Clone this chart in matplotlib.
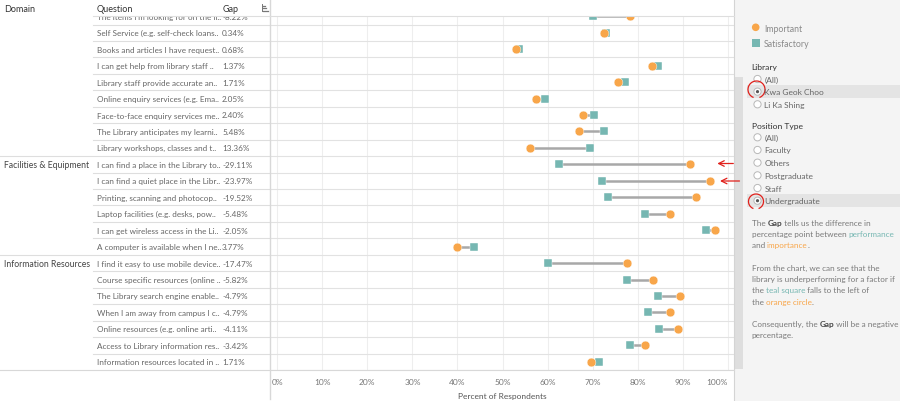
import matplotlib
matplotlib.use("Agg")
import matplotlib.pyplot as plt
from matplotlib.patches import Rectangle, Circle, Arc

plt.rcParams['font.family'] = ['Lato', 'DejaVu Sans']

# rows as they appear in the (scrolled) Tableau view
questions = [
    "The items I'm looking for on the li..",
    "Self Service (e.g. self-check loans..",
    "Books and articles I have request..",
    "I can get help from library staff ..",
    "Library staff provide accurate an..",
    "Online enquiry services (e.g. Ema..",
    "Face-to-face enquiry services me..",
    "The Library anticipates my learni..",
    "Library workshops, classes and t..",
    "I can find a place in the Library to..",
    "I can find a quiet place in the Libr..",
    "Printing, scanning and photocop..",
    "Laptop facilities (e.g. desks, pow..",
    "I can get wireless access in the Li..",
    "A computer is available when I ne..",
    "I find it easy to use mobile device..",
    "Course specific resources (online ..",
    "The Library search engine enable..",
    "When I am away from campus I c..",
    "Online resources (e.g. online arti..",
    "Access to Library information res..",
    "Information resources located in ..",
]
domains = ["Library Services"] * 9 + ["Facilities & Equipment"] * 6 + ["Information Resources"] * 7
gap_labels = ["-8.22%", "0.34%", "0.68%", "1.37%", "1.71%", "2.05%", "2.40%", "5.48%", "13.36%",
              "-29.11%", "-23.97%", "-19.52%", "-5.48%", "-2.05%", "3.77%",
              "-17.47%", "-5.82%", "-4.79%", "-4.79%", "-4.11%", "-3.42%", "1.71%"]
important = [78.3, 72.6, 52.9, 83.2, 75.6, 57.4, 67.9, 67.0, 56.0,
             91.7, 96.1, 93.0, 87.2, 97.2, 39.9,
             77.6, 83.4, 89.3, 87.2, 88.9, 81.7, 69.7]
satisfactory = [70.1, 72.9, 53.6, 84.6, 77.3, 59.4, 70.3, 72.5, 69.4,
                62.6, 72.1, 73.5, 81.7, 95.1, 43.7,
                60.1, 77.6, 84.5, 82.4, 84.8, 78.3, 71.4]
x_ticks = [0, 10, 20, 30, 40, 50, 60, 70, 80, 90, 100]

library_options = ["(All)", "Kwa Geok Choo", "Li Ka Shing"]
library_selected = "Kwa Geok Choo"
position_options = ["(All)", "Faculty", "Others", "Postgraduate", "Staff", "Undergraduate"]
position_selected = "Undergraduate"

ORANGE = "#f8a64a"
TEAL = "#76b7b2"
W, H = 900, 402

fig = plt.figure(figsize=(9, 4.02), dpi=100)
fig.patch.set_facecolor("white")


def fx(px):
    return px / W


def fy(py):
    return 1 - py / H


# background / overlay axes in pixel units
ax_bg = fig.add_axes([0, 0, 1, 1], zorder=-1)
ax_bg.set_xlim(0, W)
ax_bg.set_ylim(H, 0)
ax_bg.axis("off")
ax_bg.add_patch(Rectangle((734.5, 0), W - 734.5, H, color="#f4f4f4", lw=0))
ax_bg.add_patch(Rectangle((734.5, 78), 8.5, 292, color="#dedede", lw=0))
ax_bg.add_patch(Rectangle((747, 86), W - 747, 13, color="#e4e4e4", lw=0))
ax_bg.add_patch(Rectangle((747, 195), W - 747, 13, color="#e4e4e4", lw=0))

n = len(questions)
row_px = 16.45
top_px, bot_px = 17.3, 371
y_bottom = (bot_px - top_px) / row_px

# chart
ax = fig.add_axes([fx(270), fy(bot_px), (734 - 270) / W, (bot_px - top_px) / H])
ax.set_facecolor("none")
ax.set_xlim((270 - 277.3) / 4.504, (734 - 277.3) / 4.504)
ax.set_ylim(y_bottom, 0)
for t in x_ticks:
    ax.axvline(t, color="#eeeeee", lw=0.8, zorder=0)
for i in range(n):
    ax.axhline(i + 0.5, color="#e2e2e2", lw=0.8, zorder=0)
rows = list(range(n))
ax.hlines(rows, important, satisfactory, color="#a8a8a8", lw=1.8, zorder=1)
ax.scatter(satisfactory, rows, marker="s", s=34, color=TEAL, edgecolors="white", linewidths=0.3, zorder=2)
ax.scatter(important, rows, marker="o", s=40, color=ORANGE, edgecolors="white", linewidths=0.3, zorder=3)
for s in ax.spines.values():
    s.set_visible(False)
ax.set_yticks([])
ax.set_xticks(x_ticks)
ax.set_xticklabels([f"{t}%" for t in x_ticks], fontsize=6, color="#777777")
ax.get_xticklabels()[-1].set_horizontalalignment("right")
ax.tick_params(axis="x", length=0, pad=6)
ax.set_xlabel("Percent of Respondents", fontsize=6, color="#555555", labelpad=5)

# table on the left
ax_tab = fig.add_axes([0, fy(bot_px), 270 / W, (bot_px - top_px) / H])
ax_tab.set_xlim(0, 270)
ax_tab.set_ylim(y_bottom, 0)
ax_tab.axis("off")
for i in range(n):
    ax_tab.text(97, i, questions[i], fontsize=5.9, color="#666666", va="center", clip_on=True)
    ax_tab.text(222, i, gap_labels[i], fontsize=5.9, color="#666666", va="center", clip_on=True)
    if i > 0 and domains[i] != domains[i - 1]:
        ax_tab.text(4, i, domains[i], fontsize=6.2, color="#444444", va="center", clip_on=True)
for i in range(n - 1):
    x0 = 0 if domains[i] != domains[i + 1] else 93
    ax_tab.plot([x0, 270], [i + 0.5, i + 0.5], color="#dedede", lw=0.8, clip_on=True)

# overlay for headers, borders, side panel
ov = fig.add_axes([0, 0, 1, 1], zorder=5)
ov.set_xlim(0, W)
ov.set_ylim(H, 0)
ov.axis("off")
ov.patch.set_alpha(0)
ov.plot([270, 270], [0, 400], color="#d8d8d8", lw=1)
ov.plot([734.3, 734.3], [0, H], color="#d4d4d4", lw=0.8)
ov.plot([93, 734], [17.3, 17.3], color="#dedede", lw=0.8)
ov.plot([0, 734], [bot_px, bot_px], color="#d8d8d8", lw=0.8)

for x, label in [(4, "Domain"), (97, "Question"), (223, "Gap")]:
    ov.text(x, 9, label, fontsize=6.5, color="#333333", va="center")
# sort icon
ov.plot([261.5, 261.5], [5, 12], color="#777777", lw=0.7)
for yy, ln in [(7, 2.0), (9.3, 3.5), (11.6, 5.0)]:
    ov.plot([262.5, 262.5 + ln], [yy, yy], color="#777777", lw=0.9)

# legend
ov.add_patch(Circle((755.7, 28.3), 3.8, color=ORANGE, lw=0))
ov.text(764, 29, "Important", fontsize=6.3, color="#8a8a8a", va="center")
ov.add_patch(Rectangle((751.7, 39.7), 8, 8, color=TEAL, lw=0))
ov.text(764, 44.5, "Satisfactory", fontsize=6.3, color="#8a8a8a", va="center")


def radio_group(title, title_y, options, selected, first_y, step):
    ov.text(751.5, title_y, title, fontsize=6.1, color="#333333", va="center")
    for k, opt in enumerate(options):
        yy = first_y + k * step
        ov.add_patch(Circle((757.5, yy), 3.6, facecolor="white", edgecolor="#b8b8b8", lw=0.7))
        if opt == selected:
            ov.add_patch(Circle((757.5, yy), 1.6, color="#555555", lw=0))
        ov.text(764.3, yy, opt, fontsize=6.0, color="#666666", va="center")


radio_group("Library", 67.7, library_options, library_selected, 80, 12.65)
radio_group("Position Type", 126.7, position_options, position_selected, 138.3, 12.68)

# explanatory text with coloured words
renderer = fig.canvas.get_renderer()
paragraph = [
    (223.3, [("The ", "#7a7a7a", "normal"), ("Gap", "#444444", "bold"), (" tells us the difference in", "#7a7a7a", "normal")]),
    (234.5, [("percentage point between ", "#7a7a7a", "normal"), ("performance", TEAL, "normal")]),
    (245.7, [("and ", "#7a7a7a", "normal"), ("importance", ORANGE, "normal"), (".", "#7a7a7a", "normal")]),
    (268.3, [("From the chart, we can see that the", "#7a7a7a", "normal")]),
    (279.7, [("library is underperforming for a factor if", "#7a7a7a", "normal")]),
    (291.0, [("the ", "#7a7a7a", "normal"), ("teal square", TEAL, "normal"), (" falls to the left of", "#7a7a7a", "normal")]),
    (302.2, [("the ", "#7a7a7a", "normal"), ("orange circle", ORANGE, "normal"), (".", "#7a7a7a", "normal")]),
    (324.7, [("Consequently, the ", "#7a7a7a", "normal"), ("Gap", "#444444", "bold"), (" will be a negative", "#7a7a7a", "normal")]),
    (335.8, [("percentage.", "#7a7a7a", "normal")]),
]
for yy, parts in paragraph:
    x = 751.5
    for txt, col, wt in parts:
        t = ov.text(x, yy, txt, fontsize=5.9, color=col, fontweight=wt, va="center")
        bb = t.get_window_extent(renderer=renderer)
        x += bb.width * W / fig.bbox.width

# red hand-drawn annotations on the screenshot
ov.add_patch(Arc((756.5, 90.5), 17, 17, theta1=110, theta2=430, color="#e0201b", lw=0.9))
ov.add_patch(Arc((756, 202.5), 15, 15, theta1=110, theta2=430, color="#e0201b", lw=0.9))
for y_arrow, x_start, x_end in [(164.5, 733.3, 717.3), (182.0, 739.5, 720.0)]:
    ov.annotate("", xy=(x_end, y_arrow), xytext=(x_start, y_arrow),
                arrowprops=dict(arrowstyle="->", color="#e0201b", lw=0.9,
                                mutation_scale=10, shrinkA=0, shrinkB=0))

fig.savefig("out.png", dpi=100)
